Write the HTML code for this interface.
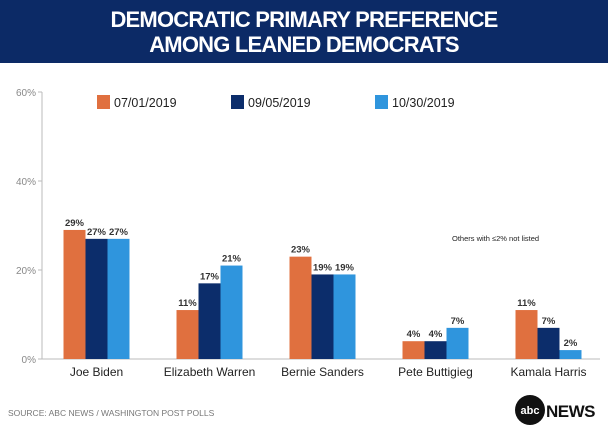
<!DOCTYPE html>
<html><head><meta charset="utf-8"><style>
body{margin:0;width:608px;height:430px;background:#fff;font-family:"Liberation Sans",sans-serif;overflow:hidden;position:relative}
#hdr{position:absolute;left:0;top:0;width:608px;height:63px;background:#0c2a66;color:#fff;text-align:center;font-weight:bold;font-size:22px;line-height:25px;padding-top:7px;box-sizing:border-box;letter-spacing:-0.8px}
svg{position:absolute;left:0;top:0}
</style></head><body>
<div id="hdr">DEMOCRATIC PRIMARY PREFERENCE<br>AMONG LEANED DEMOCRATS</div>
<svg id="c" width="608" height="430"></svg>
<script>
const categories=["Joe Biden","Elizabeth Warren","Bernie Sanders","Pete Buttigieg","Kamala Harris"];
const series1=[29,11,23,4,11];
const series2=[27,17,19,4,7];
const series3=[27,21,19,7,2];
const seriesNames=["07/01/2019","09/05/2019","10/30/2019"];
const yTicks=[0,20,40,60];
const colors=["#e0703f","#0c2d6b","#2f95dd"];
const NS="http://www.w3.org/2000/svg";
const svg=document.getElementById('c');
const x0=40,x1=605,y0=359,y60=92;
const y=v=>y0-(v/60)*(y0-y60);
const band=(x1-x0)/categories.length;
function el(t,a,txt){const e=document.createElementNS(NS,t);for(const k in a)e.setAttribute(k,a[k]);if(txt!=null)e.textContent=txt;svg.appendChild(e);return e;}
const ax=el('line',{x1:42,y1:y60,x2:42,y2:y0,stroke:'#bbb'});


const bx=el('line',{x1:42,y1:y0,x2:600,y2:y0,stroke:'#bbb'});


yTicks.forEach(t=>{
 const tx=el('text',{x:36,y:y(t)+4,'text-anchor':'end','font-size':10,fill:'#888'},t+'%');
 
 
 el('line',{x1:38,y1:y(t),x2:42,y2:y(t),stroke:'#bbb'});
});
const all=[series1,series2,series3];
categories.forEach((c,i)=>{
 const cx=x0+band*(i+0.5);
 all.forEach((s,j)=>{
  const bxp=cx-33+j*22;
  const r=el('rect',{x:bxp,y:y(s[i]),width:22,height:y0-y(s[i]),fill:colors[j]});
  
  
  const l=el('text',{x:bxp+11,y:y(s[i])-4,'text-anchor':'middle','font-size':9.5,'font-weight':'bold',fill:'#333'},s[i]+'%');
  
  
 });
 const cl=el('text',{x:cx,y:y0+17,'text-anchor':'middle','font-size':12,fill:'#222'},c);
 
 
});
const lx=[97,231,375];
seriesNames.forEach((n,j)=>{
 const sq=el('rect',{x:lx[j],y:95,width:13,height:14,fill:colors[j]});
 
 
 const t=el('text',{x:lx[j]+17,y:107,'font-size':12.5,fill:'#222'},n);
 
 
});
const note=el('text',{x:452,y:241,'font-size':7.5,fill:'#222'},'Others with ≤2% not listed');


const src=el('text',{x:8,y:416,'font-size':8.5,fill:'#777'},'SOURCE: ABC NEWS / WASHINGTON POST POLLS');


const lg=el('circle',{cx:530,cy:410,r:15,fill:'#111'});


el('text',{x:530,y:414,'text-anchor':'middle','font-size':11,'font-weight':'bold',fill:'#fff'},'abc');
const nw=el('text',{x:546,y:417,'font-size':17,'font-weight':'bold',fill:'#111','letter-spacing':'-0.5'},'NEWS');


</script>
</body></html>
